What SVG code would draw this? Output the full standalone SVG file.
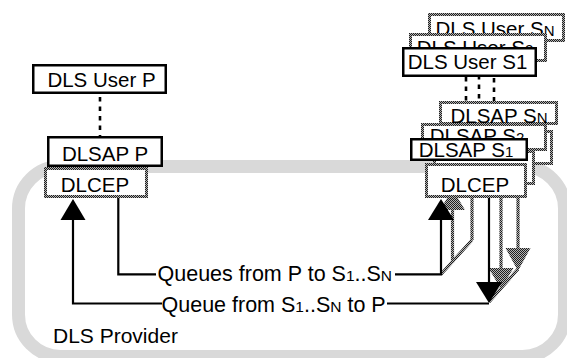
<svg xmlns="http://www.w3.org/2000/svg" width="567" height="358" viewBox="0 0 567 358">
  <defs>
    <!-- 50% halftone used for the grey outlines and grey queue lines -->
    <pattern id="dither" width="2" height="2" patternUnits="userSpaceOnUse">
      <rect width="2" height="2" fill="#b4b4b4"/>
      <rect width="1" height="1" fill="#1e1e1e"/>
      <rect x="1" y="1" width="1" height="1" fill="#1e1e1e"/>
    </pattern>
    <style>
      .frame { fill: none; stroke: #d9d9d9; stroke-width: 13; }
      .box { fill: #ffffff; stroke: #000000; stroke-width: 2.5; }
      .gbox { fill: #ffffff; stroke: url(#dither); stroke-width: 3; }
      .t { font-family: "Liberation Sans", Arial, Helvetica, sans-serif; font-size: 20.5px; fill: #000000; text-anchor: middle; }
      .lbl { font-family: "Liberation Sans", Arial, Helvetica, sans-serif; font-size: 21.5px; fill: #000000; }
      .sub { font-size: 15.5px; }
      .bsub { font-size: 15px; }
      .ln { fill: none; stroke: #000000; stroke-width: 2.2; }
      .gln { fill: none; stroke: url(#dither); stroke-width: 3.2; }
      .dot { fill: none; stroke: #000000; stroke-width: 2.6; stroke-dasharray: 4.5 5; }
      .head { fill: #000000; }
      .ghead { fill: url(#dither); }
    </style>
  </defs>

  <!-- provider boundary -->
  <g id="provider">
    <rect class="frame" x="18.5" y="166.5" width="546" height="190" rx="42" ry="42"/>
    <text class="lbl" x="53" y="343" style="font-size:21px">DLS Provider</text>
  </g>

  <!-- queues and user/SAP links -->
  <g id="connectors">
    <line class="dot" x1="100" y1="97" x2="100" y2="136"/>
    <line class="dot" x1="494" y1="42" x2="494" y2="101" stroke-dashoffset="2"/>
    <line class="dot" x1="479" y1="62" x2="479" y2="123" stroke-dashoffset="6"/>
    <line class="dot" x1="466" y1="77" x2="466" y2="138"/>

    <!-- queue from S1..SN to P -->
    <polyline class="ln" points="162,303.5 73,303.5 73,219"/>
    <polygon class="head" points="73,199 60.5,220 85.5,220"/>
    <line class="ln" x1="387" y1="303.5" x2="489" y2="303.5"/>
    <line class="gln" x1="489" y1="302" x2="518" y2="269"/>
    <line class="gln" x1="518" y1="160" x2="518" y2="250"/>
    <polygon class="ghead" points="518,271 505.5,248 530.5,248"/>
    <line class="gln" x1="501" y1="180" x2="501" y2="270"/>
    <polygon class="ghead" points="501,289 488.5,268 513.5,268"/>
    <line class="ln" x1="489" y1="198" x2="489" y2="283"/>
    <polygon class="head" points="489,303 476,282 502,282"/>

    <!-- queues from P to S1..SN -->
    <polyline class="ln" points="118.3,198 118.3,274.3 156,274.3"/>
    <line class="gln" x1="441" y1="274.3" x2="472" y2="240"/>
    <line class="gln" x1="472" y1="240" x2="472" y2="180"/>
    <line class="gln" x1="452.5" y1="262.5" x2="452.5" y2="208"/>
    <polygon class="ghead" points="452.5,189 440,210 465,210"/>
    <polyline class="ln" points="395,274.3 441,274.3 441,219"/>
    <polygon class="head" points="441,199 428,220 454,220"/>

    <text class="lbl" x="157.5" y="280.5">Queues from P to S<tspan class="sub">1</tspan>..S<tspan class="sub">N</tspan></text>
    <text class="lbl" x="161.5" y="311.5">Queue from S<tspan class="sub">1</tspan>..S<tspan class="sub">N</tspan> to P</text>
  </g>

  <!-- initiator side -->
  <g id="user-p">
    <rect class="box" x="33.25" y="65.25" width="132.5" height="27.5"/>
    <text class="t" x="101.5" y="87">DLS User P</text>
  </g>
  <g id="dlcep-p">
    <rect class="gbox" x="45.5" y="168.5" width="101" height="28"/>
    <text class="t" x="95" y="191.5">DLCEP</text>
  </g>
  <g id="dlsap-p">
    <rect class="box" x="48.25" y="137.25" width="113.5" height="28.5"/>
    <text class="t" x="105" y="160.5">DLSAP P</text>
  </g>

  <!-- responder SN (back of the stack) -->
  <g id="user-sn">
    <rect class="gbox" x="429.5" y="14.5" width="134" height="26"/>
    <text class="t" x="495" y="36">DLS User S<tspan class="bsub">N</tspan></text>
  </g>
  <g id="dlsap-sn">
    <rect class="gbox" x="440.5" y="102.5" width="116" height="21"/>
    <text class="t" x="499" y="123">DLSAP S<tspan class="bsub">N</tspan></text>
  </g>
  <g id="dlcep-sn">
    <rect class="gbox" x="452.5" y="131.5" width="99" height="32"/>
  </g>

  <!-- responder S2 -->
  <g id="user-s2">
    <rect class="gbox" x="410.5" y="34.5" width="135" height="26"/>
    <text class="t" x="475" y="54.5">DLS User S<tspan class="bsub">2</tspan></text>
  </g>
  <g id="dlsap-s2">
    <rect class="gbox" x="422.5" y="124.5" width="123" height="25"/>
    <text class="t" x="477" y="143">DLSAP S<tspan class="bsub">2</tspan></text>
  </g>
  <g id="dlcep-s2">
    <rect class="gbox" x="434.5" y="151.5" width="99" height="32"/>
  </g>

  <!-- responder S1 (front of the stack) -->
  <g id="user-s1">
    <rect class="box" x="403.25" y="48.25" width="132.5" height="27.5"/>
    <text class="t" x="467.5" y="68.5">DLS User S1</text>
  </g>
  <g id="dlsap-s1">
    <rect class="box" x="411.25" y="139.25" width="115.5" height="20.5"/>
    <text class="t" x="466" y="156.5">DLSAP S<tspan class="bsub">1</tspan></text>
  </g>
  <g id="dlcep-s1">
    <rect class="gbox" x="426.5" y="164.5" width="99" height="32"/>
    <text class="t" x="475" y="191.5">DLCEP</text>
  </g>
</svg>
